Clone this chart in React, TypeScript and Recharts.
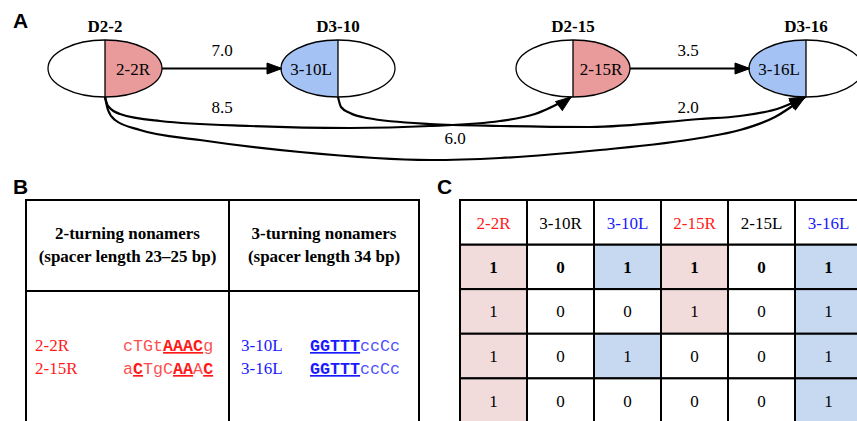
import React from 'react';
import { ComposedChart, ScatterChart, Line, Scatter, XAxis, YAxis } from 'recharts';

const SERIF = '"Liberation Serif", "Times New Roman", serif';
const SANS = '"Liberation Sans", Arial, sans-serif';
const MONO = '"Liberation Mono", "Courier New", monospace';

const RED_NODE = '#e99a9a';
const BLUE_NODE = '#a4c2f4';
const RED_CELL = '#f2dcdb';
const BLUE_CELL = '#c6d9f0';
const RED_TEXT = '#ff1a1a';
const BLUE_TEXT = '#1a1aff';

// Panel A: segments and their linkage (drawing units = px of the 857x170 panel)
const nodeNames = ['D2-2', 'D3-10', 'D2-15', 'D3-16'];
const nodeSegments = ['2-2R', '3-10L', '2-15R', '3-16L'];
const nodeX = [105, 338, 573, 806];
const nodeY = [68.5, 68.5, 68.5, 68.5];

const edgeLabels = ['7.0', '3.5', '8.5', '2.0', '6.0'];
const edgeLabelX = [222, 688, 222, 688, 455];
const edgeLabelY = [50, 50, 107, 107, 138];

// control points, ending at the arrow tip
const edgePaths: number[][][] = [
  [[162, 68.5], [282, 68.5]],
  [[630, 68.5], [750, 68.5]],
  [[105, 97], [108, 106], [120, 114], [160, 121], [250, 126], [350, 128], [430, 126], [500, 121], [535, 114], [571, 97]],
  [[338, 97], [341, 107], [350, 113], [367, 118], [430, 124], [500, 126], [590, 127], [700, 119], [740, 116], [780, 108], [805, 97]],
  [[105, 97], [108, 110], [115, 120], [140, 130], [200, 140], [300, 152], [430, 160], [500, 158], [600, 150], [700, 138], [740, 130], [775, 117], [805, 97]],
];
const arrowAngles = [0, 0, -37, -25, -33];

// Panel B: nonamer sequences
const twoTurnNames = ['2-2R', '2-15R'];
const twoTurnSeqs = ['cTGtAAACg', 'aCTgCAAAC'];
const twoTurnMarks = ['000011110', '010001101'];
const threeTurnNames = ['3-10L', '3-16L'];
const threeTurnSeqs = ['GGTTTccCc', 'GGTTTccCc'];
const threeTurnMarks = ['111110000', '111110000'];

// Panel C: presence matrix
const columns = ['2-2R', '3-10R', '3-10L', '2-15R', '2-15L', '3-16L'];
const columnKinds = ['R', '-', 'L', 'R', '-', 'L'];
const matrixRows = [
  [1, 0, 1, 1, 0, 1],
  [1, 0, 0, 1, 0, 1],
  [1, 0, 1, 0, 0, 1],
  [1, 0, 0, 0, 0, 1],
];

const RX = 57;
const RY = 28.5;
const CELL_W = 67;
const CELL_H = 44.625;

const nodeData = nodeNames.map((name, i) => ({ name, seg: nodeSegments[i], x: nodeX[i], y: nodeY[i] }));
const edgeData = edgePaths.map((p) => p.map(([x, y]) => ({ x, y })));
const arrowData = edgePaths.map((p, i) => {
  const tip = p[p.length - 1];
  return { x: tip[0], y: tip[1], angle: arrowAngles[i] };
});
const labelData = edgeLabels.map((text, i) => ({ text, x: edgeLabelX[i], y: edgeLabelY[i] }));
const cellData = matrixRows.flatMap((r, ri) =>
  r.map((v, ci) => ({ col: ci + 1, row: ri + 1, v, kind: columnKinds[ci], bold: ri === 0 })),
);

function NodeShape(props: any) {
  const { cx, cy, payload } = props;
  const right = payload.seg.endsWith('R');
  const half = right
    ? `M${cx},${cy - RY} A${RX},${RY} 0 0 1 ${cx},${cy + RY} Z`
    : `M${cx},${cy - RY} A${RX},${RY} 0 0 0 ${cx},${cy + RY} Z`;
  return (
    <g>
      <ellipse cx={cx} cy={cy} rx={RX} ry={RY} fill="#fff" />
      <path d={half} fill={right ? RED_NODE : BLUE_NODE} />
      <ellipse cx={cx} cy={cy} rx={RX} ry={RY} fill="none" stroke="#000" strokeWidth={1.3} />
      <line x1={cx} y1={cy - RY} x2={cx} y2={cy + RY} stroke="#000" strokeWidth={1.3} />
      <text x={cx + (right ? 28 : -27)} y={cy + 6} textAnchor="middle" fontFamily={SERIF} fontSize={17}>
        {payload.seg}
      </text>
      <text x={cx} y={cy - 37} textAnchor="middle" fontFamily={SERIF} fontWeight="bold" fontSize={17}>
        {payload.name}
      </text>
    </g>
  );
}

function ArrowShape(props: any) {
  const { cx, cy, payload } = props;
  return (
    <path
      d="M0,0 L-15,-5.5 L-15,5.5 Z"
      transform={`translate(${cx},${cy}) rotate(${payload.angle})`}
      fill="#000"
      stroke="#000"
      strokeWidth={1}
    />
  );
}

function EdgeLabel(props: any) {
  const { cx, cy, payload } = props;
  return (
    <text x={cx} y={cy + 6} textAnchor="middle" fontFamily={SERIF} fontSize={17} fill="#000">
      {payload.text}
    </text>
  );
}

function cellFill(kind: string, v: number) {
  if (!v) return '#fff';
  if (kind === 'R') return RED_CELL;
  if (kind === 'L') return BLUE_CELL;
  return '#fff';
}

function kindColor(kind: string) {
  if (kind === 'R') return RED_TEXT;
  if (kind === 'L') return BLUE_TEXT;
  return '#000';
}

function MatrixCell(props: any) {
  const { cx, cy, payload } = props;
  return (
    <g>
      <rect
        x={cx - CELL_W / 2}
        y={cy - CELL_H / 2}
        width={CELL_W}
        height={CELL_H}
        fill={cellFill(payload.kind, payload.v)}
        stroke="#000"
        strokeWidth={2}
      />
      <text
        x={cx}
        y={cy + 6}
        textAnchor="middle"
        fontFamily={SERIF}
        fontSize={17}
        fontWeight={payload.bold ? 'bold' : 'normal'}
        fill="#000"
      >
        {payload.v}
      </text>
    </g>
  );
}

function HeaderTick(props: any) {
  const { x, y, payload } = props;
  const i = payload.value - 1;
  return (
    <g>
      <rect x={x - CELL_W / 2} y={y - 44.5} width={CELL_W} height={44.5} fill="#fff" stroke="#000" strokeWidth={2} />
      <text x={x} y={y - 16} textAnchor="middle" fontFamily={SERIF} fontSize={17} fill={kindColor(columnKinds[i])}>
        {columns[i]}
      </text>
    </g>
  );
}

function Sequence({ x, y, seq, marks, color }: { x: number; y: number; seq: string; marks: string; color: string }) {
  const parts: { s: string; b: boolean }[] = [];
  for (let i = 0; i < seq.length; i++) {
    const b = marks[i] === '1';
    const last = parts[parts.length - 1];
    if (last && last.b === b) last.s += seq[i];
    else parts.push({ s: seq[i], b });
  }
  return (
    <text x={x} y={y} fontFamily={MONO} fontSize={16.7} fill={color}>
      {parts.map((p, i) => (
        <tspan
          key={i}
          fontWeight={p.b ? 'bold' : 'normal'}
          style={p.b ? { textDecoration: 'underline' } : undefined}
          fillOpacity={p.b ? 1 : 0.8}
        >
          {p.s}
        </tspan>
      ))}
    </text>
  );
}

function PanelB() {
  return (
    <g>
      <g stroke="#000" strokeWidth={2}>
        <line x1={25} y1={200} x2={420} y2={200} />
        <line x1={26} y1={200} x2={26} y2={430} />
        <line x1={419} y1={200} x2={419} y2={430} />
        <line x1={229} y1={200} x2={229} y2={430} />
        <line x1={26} y1={291} x2={419} y2={291} />
      </g>
      <g fontFamily={SERIF} fontWeight="bold" fontSize={17} textAnchor="middle" fill="#000">
        <text x={127.5} y={239}>2-turning nonamers</text>
        <text x={127.5} y={262}>(spacer length 23–25 bp)</text>
        <text x={324} y={239}>3-turning nonamers</text>
        <text x={324} y={262}>(spacer length 34 bp)</text>
      </g>
      {twoTurnNames.map((n, i) => (
        <g key={n}>
          <text x={35} y={351 + i * 23} fontFamily={SERIF} fontSize={17} fill={RED_TEXT}>
            {n}
          </text>
          <Sequence x={123} y={351 + i * 23} seq={twoTurnSeqs[i]} marks={twoTurnMarks[i]} color={RED_TEXT} />
        </g>
      ))}
      {threeTurnNames.map((n, i) => (
        <g key={n}>
          <text x={241} y={351 + i * 23} fontFamily={SERIF} fontSize={17} fill={BLUE_TEXT}>
            {n}
          </text>
          <Sequence x={310} y={351 + i * 23} seq={threeTurnSeqs[i]} marks={threeTurnMarks[i]} color={BLUE_TEXT} />
        </g>
      ))}
    </g>
  );
}

export default function App() {
  return (
    <div
      style={{
        position: 'absolute',
        left: 0,
        top: 0,
        width: 857,
        height: 421,
        overflow: 'hidden',
        background: '#fff',
      }}
    >
      <div style={{ position: 'absolute', left: 0, top: 0 }}>
        <ComposedChart width={857} height={170} margin={{ top: 0, right: 0, bottom: 0, left: 0 }}>
          <XAxis type="number" dataKey="x" domain={[0, 857]} hide allowDataOverflow />
          <YAxis type="number" dataKey="y" domain={[0, 170]} reversed hide allowDataOverflow />
          {edgeData.map((d, i) => (
            <Line
              key={`edge-${i}`}
              data={d}
              dataKey="y"
              type={i < 2 ? 'linear' : 'monotone'}
              stroke="#000"
              strokeWidth={2.2}
              dot={false}
              activeDot={false}
              isAnimationActive={false}
            />
          ))}
          <Scatter data={nodeData} dataKey="y" shape={NodeShape} isAnimationActive={false} />
          <Scatter data={arrowData} dataKey="y" shape={ArrowShape} isAnimationActive={false} />
          <Scatter data={labelData} dataKey="y" shape={EdgeLabel} isAnimationActive={false} />
        </ComposedChart>
      </div>

      <div style={{ position: 'absolute', left: 459, top: 199 }}>
        <ScatterChart width={403} height={224} margin={{ top: 1, right: 0, bottom: 0, left: 1 }}>
          <XAxis
            type="number"
            dataKey="col"
            domain={[0.5, 6.5]}
            ticks={[1, 2, 3, 4, 5, 6]}
            interval={0}
            orientation="top"
            height={44.5}
            tickSize={0}
            tickMargin={0}
            axisLine={false}
            tickLine={false}
            tick={HeaderTick}
          />
          <YAxis type="number" dataKey="row" domain={[0.5, 4.5]} reversed hide />
          <Scatter data={cellData} shape={MatrixCell} isAnimationActive={false} />
        </ScatterChart>
      </div>

      <svg
        width={857}
        height={421}
        style={{ position: 'absolute', left: 0, top: 0, pointerEvents: 'none' }}
      >
        <g fontFamily={SANS} fontWeight="bold" fontSize={21} fill="#000">
          <text x={13} y={28}>A</text>
          <text x={13} y={194}>B</text>
          <text x={437} y={194}>C</text>
        </g>
        <PanelB />
      </svg>
    </div>
  );
}
